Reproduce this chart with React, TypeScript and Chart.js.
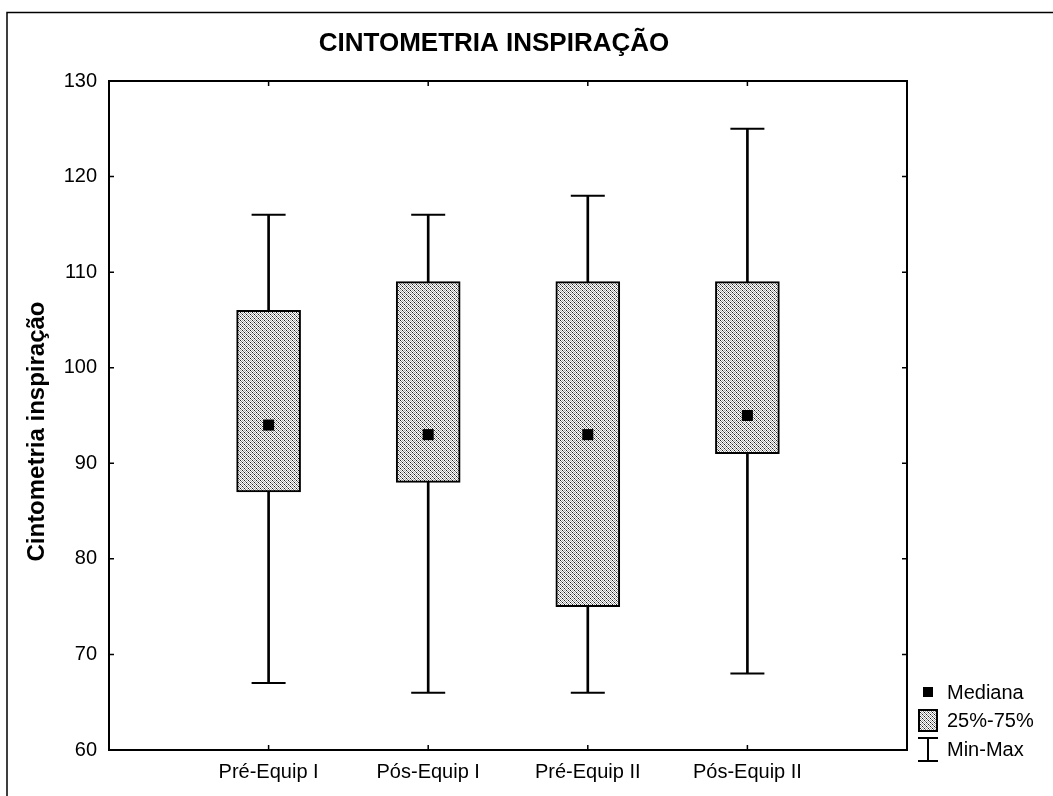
import { useEffect, useRef } from 'react';
import { Chart, registerables } from 'chart.js';

Chart.register(...registerables);

// Box-plot summary per group
const categories = ['Pré-Equip I', 'Pós-Equip I', 'Pré-Equip II', 'Pós-Equip II'];
const minValues = [67, 66, 66, 68];
const q1Values = [87, 88, 75, 91];
const medianValues = [94, 93, 93, 95];
const q3Values = [106, 109, 109, 109];
const maxValues = [116, 116, 118, 125];

const yTickValues = [60, 70, 80, 90, 100, 110, 120, 130];
const legendLabels = ['Mediana', '25%-75%', 'Min-Max'];
const chartTitle = 'CINTOMETRIA INSPIRAÇÃO';
const yAxisTitle = 'Cintometria inspiração';

const FONT = "'Liberation Sans', Arial, sans-serif";

// Fine dotted diagonal hatch used for the interquartile boxes
function makeHatch(): CanvasPattern | string {
  const n = 4;
  const c = document.createElement('canvas');
  c.width = n;
  c.height = n;
  const g = c.getContext('2d');
  if (!g) return '#c0c0c0';
  const img = g.createImageData(n, n);
  for (let y = 0; y < n; y++) {
    for (let x = 0; x < n; x++) {
      const k = (((x - y) % n) + n) % n;
      let v = 255;
      if (k === 0) v = y % 2 === 0 ? 30 : 120;
      else if (k === 2) v = 175;
      const p = (y * n + x) * 4;
      img.data[p] = v;
      img.data[p + 1] = v;
      img.data[p + 2] = v;
      img.data[p + 3] = 255;
    }
  }
  g.putImageData(img, 0, 0);
  return g.createPattern(c, 'repeat') || '#c0c0c0';
}

export default function App() {
  const canvasRef = useRef<HTMLCanvasElement | null>(null);

  useEffect(() => {
    const canvas = canvasRef.current;
    if (!canvas) return;
    const hatch = makeHatch();

    const decor = {
      id: 'decor',
      beforeDraw(chart: any) {
        const ctx = chart.ctx as CanvasRenderingContext2D;
        ctx.save();
        ctx.fillStyle = '#fff';
        ctx.fillRect(0, 0, chart.width, chart.height);
        // outer figure frame
        ctx.strokeStyle = '#000';
        ctx.lineWidth = 1.5;
        ctx.beginPath();
        ctx.moveTo(7, chart.height);
        ctx.lineTo(7, 12.5);
        ctx.lineTo(chart.width, 12.5);
        ctx.stroke();
        ctx.restore();
      },
      afterDraw(chart: any) {
        const ctx = chart.ctx as CanvasRenderingContext2D;
        const { left, right, top, bottom } = chart.chartArea;
        const xs = chart.scales.x;
        const ys = chart.scales.y;
        ctx.save();
        ctx.strokeStyle = '#000';
        // plot frame
        ctx.lineWidth = 2;
        ctx.strokeRect(left, top, right - left, bottom - top);
        // inward ticks
        ctx.lineWidth = 1.5;
        ctx.beginPath();
        yTickValues.forEach((v) => {
          const py = ys.getPixelForValue(v);
          ctx.moveTo(left, py);
          ctx.lineTo(left + 5, py);
          ctx.moveTo(right, py);
          ctx.lineTo(right - 5, py);
        });
        categories.forEach((_, i) => {
          const px = xs.getPixelForValue(i);
          ctx.moveTo(px, bottom);
          ctx.lineTo(px, bottom - 5);
          ctx.moveTo(px, top);
          ctx.lineTo(px, top + 5);
        });
        ctx.stroke();

        // chart title
        ctx.fillStyle = '#000';
        ctx.font = `bold 26px ${FONT}`;
        ctx.textAlign = 'center';
        ctx.textBaseline = 'alphabetic';
        ctx.fillText(chartTitle, (left + right) / 2 - 14, 51);

        // y axis title
        ctx.save();
        ctx.translate(44, (top + bottom) / 2 + 16);
        ctx.rotate(-Math.PI / 2);
        ctx.font = `bold 24px ${FONT}`;
        ctx.textAlign = 'center';
        ctx.textBaseline = 'alphabetic';
        ctx.fillText(yAxisTitle, 0, 0);
        ctx.restore();

        // legend
        const lx = right + 11;
        const tx = right + 40;
        ctx.font = `20px ${FONT}`;
        ctx.textAlign = 'left';
        ctx.textBaseline = 'middle';
        // median marker
        ctx.fillRect(lx + 5, 687, 10, 10);
        ctx.fillText(legendLabels[0], tx, 693);
        // quartile box
        ctx.fillStyle = hatch as any;
        ctx.fillRect(lx, 709, 20, 23);
        ctx.lineWidth = 2;
        ctx.strokeRect(lx + 1, 710, 18, 21);
        ctx.fillStyle = '#000';
        ctx.fillText(legendLabels[1], tx, 721);
        // min-max whisker
        ctx.beginPath();
        ctx.moveTo(lx + 10, 738);
        ctx.lineTo(lx + 10, 761);
        ctx.moveTo(lx, 738);
        ctx.lineTo(lx + 20, 738);
        ctx.moveTo(lx, 761);
        ctx.lineTo(lx + 20, 761);
        ctx.stroke();
        ctx.fillText(legendLabels[2], tx, 750);
        ctx.restore();
      },
    };

    const capPoints = [
      ...categories.map((_, i) => ({ x: i, y: maxValues[i] })),
      ...categories.map((_, i) => ({ x: i, y: minValues[i] })),
    ];

    const chart = new Chart(canvas, {
      type: 'bar',
      data: {
        datasets: [
          {
            type: 'scatter',
            label: legendLabels[0],
            data: categories.map((_, i) => ({ x: i, y: medianValues[i] })),
            pointStyle: 'rect',
            pointRadius: 7.8,
            pointBackgroundColor: '#000',
            pointBorderWidth: 0,
            order: 0,
          } as any,
          {
            type: 'bar',
            label: legendLabels[1],
            data: categories.map((_, i) => ({ x: i, y: [q1Values[i], q3Values[i]] })),
            backgroundColor: hatch as any,
            borderColor: '#000',
            borderWidth: 2,
            borderSkipped: false,
            barThickness: 64,
            grouped: false,
            order: 1,
          } as any,
          {
            type: 'scatter',
            label: 'caps',
            data: capPoints,
            pointStyle: 'line',
            pointRadius: 17,
            pointBorderColor: '#000',
            pointBorderWidth: 2,
            order: 2,
          } as any,
          {
            type: 'bar',
            label: legendLabels[2],
            data: categories.map((_, i) => ({ x: i, y: [minValues[i], maxValues[i]] })),
            backgroundColor: '#000',
            borderWidth: 0,
            barThickness: 2,
            grouped: false,
            order: 3,
          } as any,
        ],
      },
      options: {
        animation: false,
        responsive: false,
        devicePixelRatio: 1,
        events: [],
        layout: { padding: { top: 81, right: 146, bottom: 0, left: 0 } },
        plugins: {
          legend: { display: false },
          title: { display: false },
          tooltip: { enabled: false },
        },
        scales: {
          x: {
            type: 'linear',
            min: -1,
            max: 4,
            offset: false,
            grid: { display: false, drawTicks: false },
            border: { display: false },
            ticks: {
              stepSize: 1,
              autoSkip: false,
              maxRotation: 0,
              padding: 10,
              color: '#000',
              font: { family: FONT, size: 20 },
              callback: (v: any) => categories[v as number] ?? '',
            },
            afterFit: (s: any) => {
              s.height = 46;
            },
          },
          y: {
            type: 'linear',
            min: 60,
            max: 130,
            grid: { display: false, drawTicks: false },
            border: { display: false },
            ticks: {
              padding: 12,
              color: '#000',
              font: { family: FONT, size: 20 },
            },
            afterBuildTicks: (s: any) => {
              s.ticks = yTickValues.map((v) => ({ value: v }));
            },
            afterFit: (s: any) => {
              s.width = 109;
            },
          },
        },
      } as any,
      plugins: [decor],
    });

    return () => chart.destroy();
  }, []);

  return (
    <div style={{ position: 'absolute', left: 0, top: 0, width: 1053, height: 796 }}>
      <canvas ref={canvasRef} width={1053} height={796} style={{ display: 'block' }} />
    </div>
  );
}
